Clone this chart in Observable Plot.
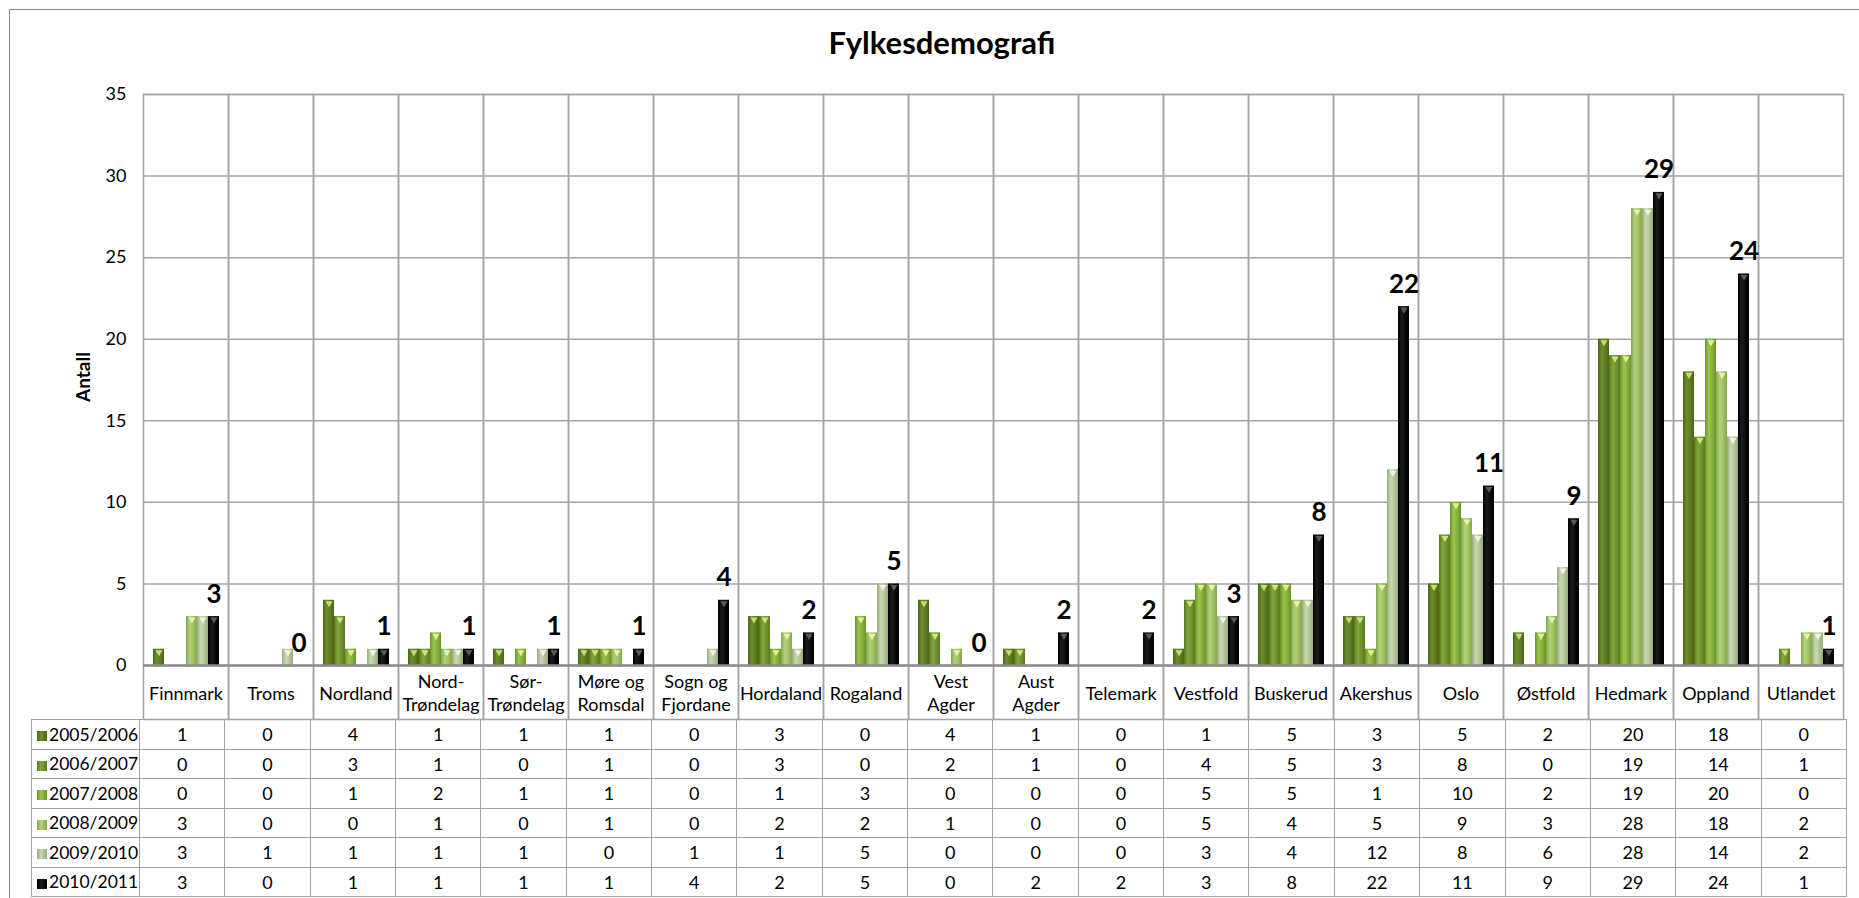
<!DOCTYPE html>
<html>
<head>
<meta charset="utf-8">
<script src="https://cdn.jsdelivr.net/npm/d3@7"></script>
<script src="https://cdn.jsdelivr.net/npm/@observablehq/plot@0.6"></script>
<style>
  html, body { margin: 0; padding: 0; background: #fff; }
  body { width: 1859px; height: 898px; overflow: hidden; position: relative; font-family: Lato, "Noto Sans", sans-serif; color: #000; }
  #frame { position: absolute; left: 9px; top: 9px; width: 1900px; height: 1000px; border-left: 1.5px solid #8a8a8a; border-top: 1.5px solid #8a8a8a; }
  #title { position: absolute; left: 0; width: 1884px; top: 27px; text-align: center; font-size: 31px; line-height: 31px; font-weight: bold; }
  #ylabel { position: absolute; left: 82px; top: 377px; transform: translate(-50%, -50%) rotate(-90deg); font-size: 19px; font-weight: bold; white-space: nowrap; }
  #chart { position: absolute; left: 0; top: 0; }
  #tbl { position: absolute; left: 31px; top: 719px; border-collapse: collapse; table-layout: fixed; width: 1815px; font-size: 18px; }
  #tbl td { border: 1.5px solid #a3a3a3; height: 28.5px; padding: 0; text-align: center; vertical-align: middle; white-space: nowrap; overflow: hidden; }
  #tbl td.key { text-align: left; padding-left: 5px; font-size: 17.5px; }
  .sw { display: inline-block; width: 10px; height: 10px; margin-right: 2px; vertical-align: -0.5px; }
</style>
</head>
<body>
<div id="frame"></div>
<div id="chart"></div>
<div id="title">Fylkesdemografi</div>
<div id="ylabel">Antall</div>
<table id="tbl"></table>
<script>
// ---- data ----
const categories = ["Finnmark","Troms","Nordland","Nord-Trøndelag","Sør-Trøndelag","Møre og Romsdal","Sogn og Fjordane","Hordaland","Rogaland","Vest Agder","Aust Agder","Telemark","Vestfold","Buskerud","Akershus","Oslo","Østfold","Hedmark","Oppland","Utlandet"];
const categoryLabels = ["Finnmark","Troms","Nordland","Nord-\nTrøndelag","Sør-\nTrøndelag","Møre og\nRomsdal","Sogn og\nFjordane","Hordaland","Rogaland","Vest\nAgder","Aust\nAgder","Telemark","Vestfold","Buskerud","Akershus","Oslo","Østfold","Hedmark","Oppland","Utlandet"];
const seriesNames = ["2005/2006","2006/2007","2007/2008","2008/2009","2009/2010","2010/2011"];
const v2005_2006 = [1,0,4,1,1,1,0,3,0,4,1,0,1,5,3,5,2,20,18,0];
const v2006_2007 = [0,0,3,1,0,1,0,3,0,2,1,0,4,5,3,8,0,19,14,1];
const v2007_2008 = [0,0,1,2,1,1,0,1,3,0,0,0,5,5,1,10,2,19,20,0];
const v2008_2009 = [3,0,0,1,0,1,0,2,2,1,0,0,5,4,5,9,3,28,18,2];
const v2009_2010 = [3,1,1,1,1,0,1,1,5,0,0,0,3,4,12,8,6,28,14,2];
const v2010_2011 = [3,0,1,1,1,1,4,2,5,0,2,2,3,8,22,11,9,29,24,1];
const yTicks = [0,5,10,15,20,25,30,35];
const title = "Fylkesdemografi";
const yLabel = "Antall";

// ---- styles ----
const seriesValues = [v2005_2006, v2006_2007, v2007_2008, v2008_2009, v2009_2010, v2010_2011];
const grads = [
  ["#4a661a", "#6d8d2e", "#5c7b24"],
  ["#587a1f", "#83a63c", "#6d9030"],
  ["#6a9428", "#9cc54e", "#83ad3b"],
  ["#84a74a", "#b4d27c", "#9dbf61"],
  ["#96ab7c", "#cad8b2", "#b1c396"],
  ["#000000", "#1c1c1c", "#080808"]
];
const capColors = ["#c7e06c", "#cfe67a", "#dff38c", "#e6f5aa", "#f0f5e2", "#5a5a5a"];

const rows = [];
seriesNames.forEach((s, si) => categories.forEach((c, ci) => rows.push({cat: c, series: s, value: seriesValues[si][ci], si})));

const marks = [
  Plot.gridY(yTicks, {stroke: "#a3a3a3", strokeOpacity: 1, strokeWidth: 1.5}),
  Plot.frame({stroke: "#a3a3a3", strokeWidth: 1.5, insetBottom: -54}),
  ...seriesNames.map((s, si) => Plot.barY(rows.filter(d => d.si === si), {fx: "cat", x: "series", y: "value", fill: `url(#g${si})`})),
  ...seriesNames.map((s, si) => Plot.dot(rows.filter(d => d.si === si && d.value > 0), {fx: "cat", x: "series", y: "value", symbol: "triangle", rotate: 180, r: 2.6, dy: 3, fill: capColors[si], stroke: "none"})),
  Plot.ruleY([0], {stroke: "#8a8a8a", strokeWidth: 2.5}),
  Plot.axisY(yTicks, {tickSize: 0, tickPadding: 17, fontSize: 18, label: null}),
  Plot.text(rows.filter(d => d.si === 5), {fx: "cat", x: "series", y: "value", text: d => String(d.value), dy: -14, lineAnchor: "bottom", fontSize: 26, fontWeight: "bold", fill: "#000"}),
  Plot.text(categories, {fx: d => d, frameAnchor: "bottom", dy: 27, text: (d, i) => categoryLabels[i], lineAnchor: "middle", lineHeight: 1.25, fontSize: 18, fill: "#000"})
];

const chart = Plot.plot({
  width: 1859,
  height: 720,
  marginLeft: 139,
  marginRight: 13,
  marginTop: 94,
  marginBottom: 55,
  style: {fontFamily: "Lato, 'Noto Sans', sans-serif", fontSize: "18px", color: "#000", background: "transparent", overflow: "visible"},
  fx: {domain: categories, padding: 0, axis: null, label: null},
  x: {domain: seriesNames, paddingInner: 0, paddingOuter: 0.7, axis: null},
  y: {domain: [0, 35], axis: null},
  marks
});

const defs = d3.select(chart).insert("defs", ":first-child");
grads.forEach((g, i) => {
  const lg = defs.append("linearGradient").attr("id", `g${i}`).attr("x1", 0).attr("x2", 1).attr("y1", 0).attr("y2", 0);
  lg.append("stop").attr("offset", "0%").attr("stop-color", g[0]);
  lg.append("stop").attr("offset", "35%").attr("stop-color", g[1]);
  lg.append("stop").attr("offset", "70%").attr("stop-color", g[2]);
  lg.append("stop").attr("offset", "100%").attr("stop-color", g[0]);
});
document.getElementById("chart").appendChild(chart);
document.getElementById("title").textContent = title;
document.getElementById("ylabel").textContent = yLabel;

// ---- data table ----
const tbl = d3.select("#tbl");
const cg = tbl.append("colgroup");
cg.append("col").style("width", "108px");
categories.forEach(() => cg.append("col").style("width", (1707 / 20) + "px"));
seriesNames.forEach((s, si) => {
  const tr = tbl.append("tr");
  const key = tr.append("td").attr("class", "key");
  key.append("span").attr("class", "sw").style("background", `linear-gradient(to right, ${grads[si][0]}, ${grads[si][1]} 40%, ${grads[si][0]})`);
  key.append("span").text(s);
  seriesValues[si].forEach(v => tr.append("td").text(v));
});
</script>
</body>
</html>
